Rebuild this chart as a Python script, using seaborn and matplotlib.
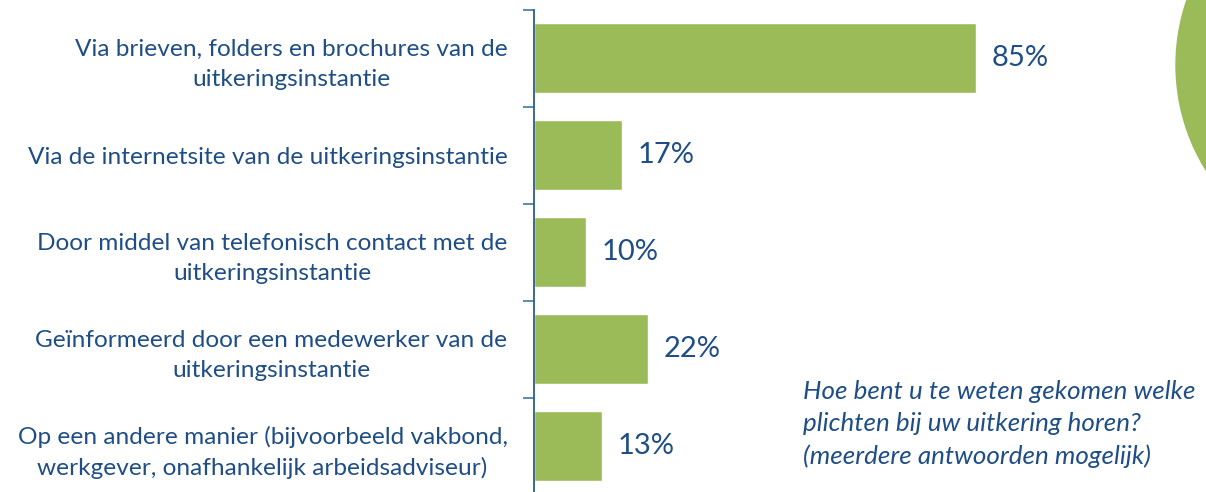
import matplotlib
matplotlib.use("Agg")
import matplotlib.pyplot as plt
from matplotlib.patches import Ellipse
import pandas as pd
import seaborn as sns

# Data
categories = [
    "Via brieven, folders en brochures van de\nuitkeringsinstantie",
    "Via de internetsite van de uitkeringsinstantie",
    "Door middel van telefonisch contact met de\nuitkeringsinstantie",
    "Geïnformeerd door een medewerker van de\nuitkeringsinstantie",
    "Op een andere manier (bijvoorbeeld vakbond,\nwerkgever, onafhankelijk arbeidsadviseur)",
]
percentages = [85, 17, 10, 22, 13]
question = "Hoe bent u te weten gekomen welke\nplichten bij uw uitkering horen?\n(meerdere antwoorden mogelijk)"

df = pd.DataFrame({"categorie": categories, "pct": percentages})

sns.set_style("white")
plt.rcParams["font.family"] = ["Lato", "DejaVu Sans"]

text_blue = "#1F4E86"
green = "#9BBB59"

W, H = 1206, 492
fig = plt.figure(figsize=(W / 100, H / 100), dpi=100)

# axes placed in pixel terms: y axis at x=534, rows 97 px apart
ax = fig.add_axes([534 / W, -2.5 / H, (W - 534) / W, 485 / H])
sns.barplot(data=df, x="pct", y="categorie", orient="h", color=green,
            saturation=1, width=0.72, ax=ax)

ax.set_xlim(0, (W - 534) / 5.2)
ax.set_ylim(len(categories) - 0.5, -0.5)
ax.set_xlabel("")
ax.set_ylabel("")
ax.set_xticks([])

for s in ["top", "right", "bottom"]:
    ax.spines[s].set_visible(False)
ax.spines["left"].set_color("#2C5F84")
ax.spines["left"].set_linewidth(1.3)

ax.set_yticks(range(len(categories)))
ax.set_yticklabels(categories, fontsize=17.6, color=text_blue,
                   multialignment="center", linespacing=1.5)
ax.tick_params(axis="y", which="major", left=True, length=0, pad=19)
ax.set_yticks([i - 0.5 for i in range(len(categories))], minor=True)
ax.tick_params(axis="y", which="minor", left=True, length=8, width=1.3, color="#4A86A8")

# value labels
for i, v in enumerate(percentages):
    ax.text(v + 3, i, f"{v}%", va="center", ha="left", fontsize=21, color=text_blue)

# question text
fig.text(803 / W, 1 - 380 / H, question, ha="left", va="top", fontsize=18.7,
         style="italic", color=text_blue, linespacing=1.48)

# decorative green circle at top right
fig.patches.append(Ellipse((1375 / W, 1 - 65 / H), 2 * 199 / W, 2 * 199 / H,
                           transform=fig.transFigure, color=green, zorder=0))

fig.savefig("out.png", dpi=100)
